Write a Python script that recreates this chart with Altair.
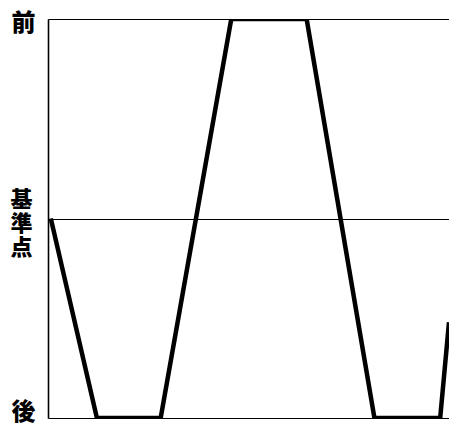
import altair as alt
import pandas as pd

# time (arbitrary units, 0..100 across the plot) and position (-1 = 後, 0 = 基準点, 1 = 前)
t = [0.7, 12.2, 28.1, 45.7, 64.5, 81.4, 97.8, 100.0]
pos = [0, -1, -1, 1, 1, -1, -1, -0.52]

tick_values = [1, 0, -1]
tick_labels = ["前", "基準点", "後"]

df = pd.DataFrame({"t": t, "pos": pos})

# labelExpr: multi-character vertical label for the middle tick
parts = []
for v, lab in zip(tick_values, tick_labels):
    if len(lab) > 1:
        txt = "[" + ",".join("'" + c + "'" for c in lab) + "]"
    else:
        txt = "'" + lab + "'"
    parts.append((v, txt))
label_expr = "".join(f"datum.value == {v} ? {txt} : " for v, txt in parts) + "''"

font = "Noto Sans CJK JP"

label_offset = {
    "condition": [
        {"test": "datum.value == 0", "value": -19},
        {"test": "datum.value == -1", "value": -6},
    ],
    "value": 4,
}
label_size = {"condition": {"test": "datum.value == 0", "value": 22}, "value": 24}
label_pad = {"condition": {"test": "datum.value == 0", "value": 16}, "value": 13}

line = alt.Chart(df).mark_line(
    color="black", strokeWidth=4.5, clip=True, strokeJoin="miter"
).encode(
    x=alt.X("t:Q", scale=alt.Scale(domain=[0, 100], nice=False), axis=None),
    y=alt.Y(
        "pos:Q",
        scale=alt.Scale(domain=[-1, 1], nice=False),
        axis=alt.Axis(
            values=tick_values,
            labelExpr=label_expr,
            title=None,
            grid=True,
            gridColor="black",
            gridWidth=1.2,
            gridOpacity=1,
            domain=True,
            domainColor="black",
            domainWidth=1.6,
            ticks=False,
            labelFont=font,
            labelFontSize=label_size,
            labelFontWeight=900,
            labelColor="black",
            labelPadding=label_pad,
            labelLineHeight=24,
            labelBaseline="middle",
            labelOffset=label_offset,
            labelOverlap=False,
            labelBound=False,
        ),
    ),
    order="t:Q",
)

chart = line.properties(
    width=401,
    height=399,
    autosize=alt.AutoSizeParams(type="none"),
    padding={"left": 40, "top": 11, "right": 0, "bottom": 8},
).configure_view(stroke=None).configure(background="white")

chart.save("out.html", embed_options={"renderer": "svg", "actions": False})
